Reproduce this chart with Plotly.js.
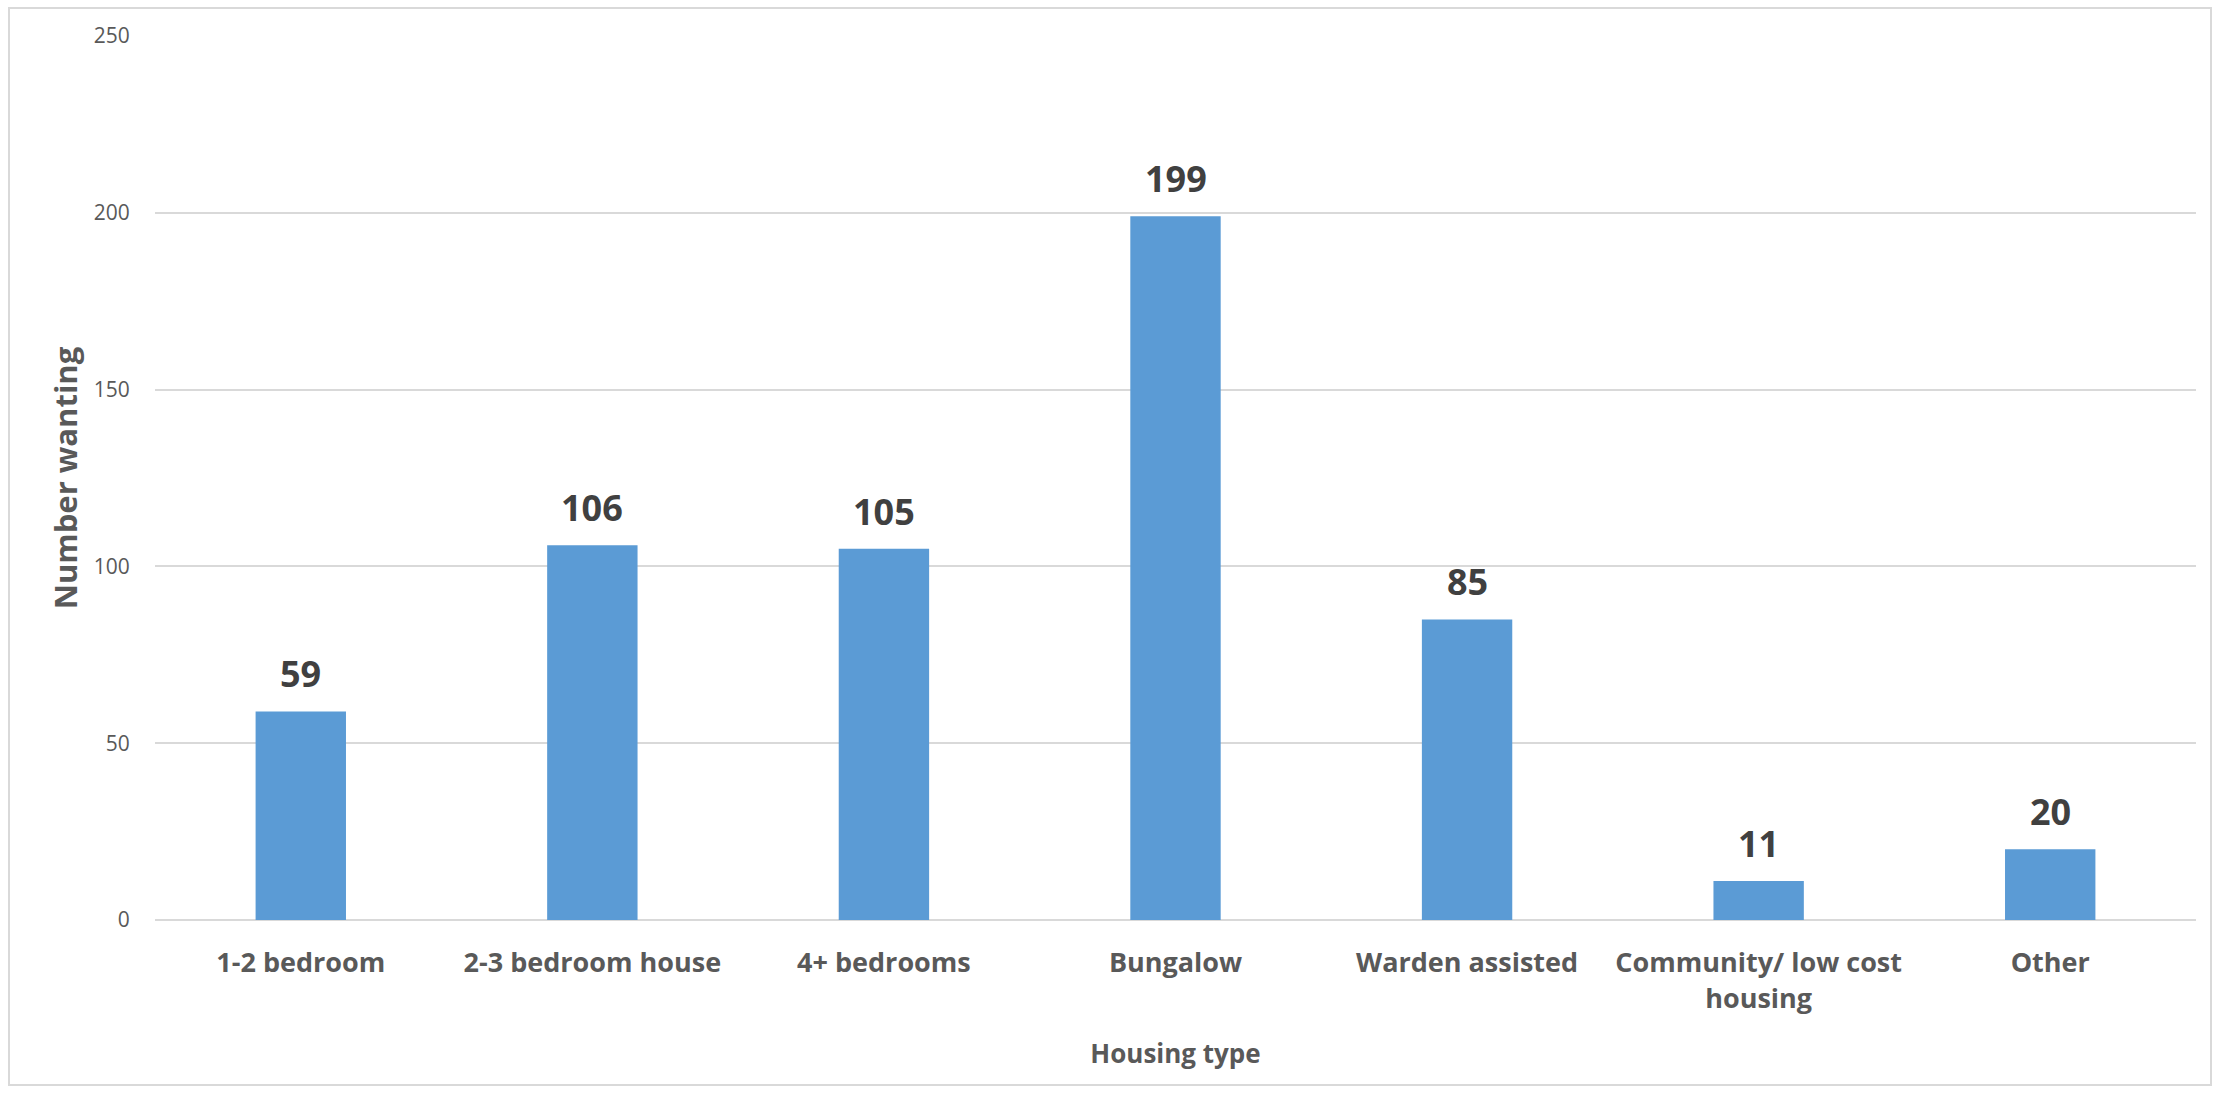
<!DOCTYPE html>
<html><head><meta charset="utf-8">
<script src="https://cdn.plot.ly/plotly-3.0.1.min.js"></script>
<style>html,body{margin:0;padding:0;background:#fff;}
#wrap{position:relative;width:2228px;height:1095px;}
#chart{width:2228px;height:1095px;}
#frame{position:absolute;left:8px;top:7px;width:2204px;height:1079px;border:2px solid #D9D9D9;pointer-events:none;box-sizing:border-box;}
</style></head>
<body><div id="wrap"><div id="chart"></div><div id="frame"></div></div>
<script>
const categories = ["1-2 bedroom","2-3 bedroom house","4+ bedrooms","Bungalow","Warden assisted","Community/ low cost<br>housing","Other"];
const values = [59,106,105,199,85,11,20];
const yTicks = [0,50,100,150,200,250];

const font = "Open Sans, Noto Sans, sans-serif";
const trace = {
  type:'bar', x:categories, y:values,
  marker:{color:'#5B9BD5'},
  hoverinfo:'x+y', cliponaxis:false
};
const annotations = categories.map((c,i)=>({
  x:c, y:values[i], xref:'x', yref:'y', text:'<b>'+values[i]+'</b>',
  showarrow:false, yanchor:'bottom', yshift:11,
  font:{family:font, size:36, color:'#404040'}
}));
const layout = {
  width:2228, height:1095,
  margin:{l:155,r:32,t:36,b:175},
  paper_bgcolor:'#fff', plot_bgcolor:'#fff',
  bargap:0.69, showlegend:false,
  font:{family:font},
  xaxis:{
    type:'category', showgrid:false, zeroline:false, showline:false,
    ticks:'outside', ticklen:19, tickcolor:'rgba(0,0,0,0)',
    tickfont:{family:font, size:27, color:'#595959', weight:'bold'},
    title:{text:'<b>Housing type</b>', font:{family:font, size:26, color:'#595959'}, standoff:30}
  },
  yaxis:{
    range:[0,250], tickvals:yTicks, ticktext:yTicks.map(String),
    showgrid:true, gridcolor:'#D9D9D9', gridwidth:2,
    zeroline:true, zerolinecolor:'#D9D9D9', zerolinewidth:2,
    showline:false, ticks:'outside', ticklen:20, tickcolor:'rgba(0,0,0,0)',
    tickfont:{family:font, size:21, color:'#595959'},
    title:{text:'<b>Number wanting</b>', font:{family:font, size:31, color:'#595959'}, standoff:6}
  },
  annotations:annotations
};
Plotly.newPlot('chart',[trace],layout,{displayModeBar:false,staticPlot:true});
</script></body></html>
